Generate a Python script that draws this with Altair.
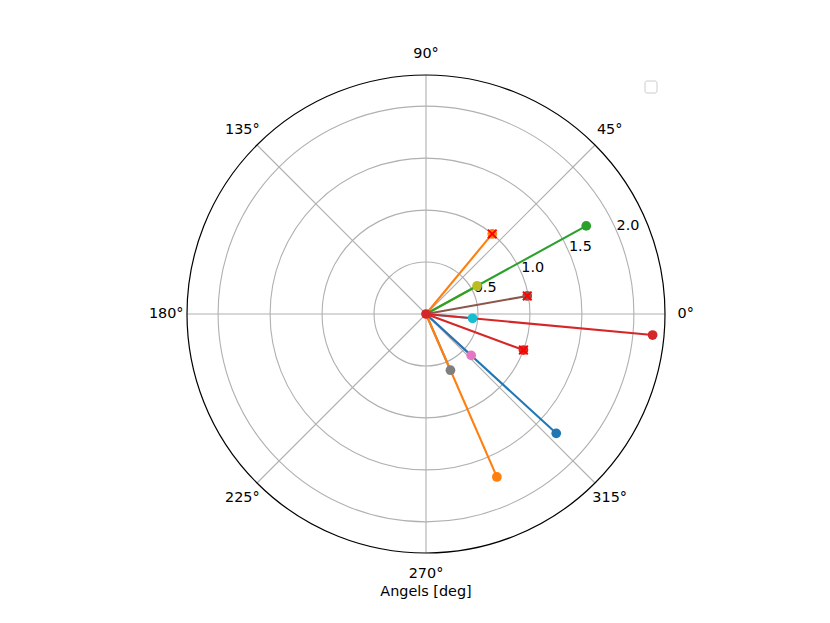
import altair as alt
import pandas as pd

# ---- data ----
vec_theta = [317.5, 293.5, 28.8, 354.7, 317.5, 293.5, 28.8, 354.7, 10.1, 50.4, 339.7]
vec_r = [1.70, 1.71, 1.76, 2.19, 0.59, 0.59, 0.56, 0.45, 0.99, 1.00, 1.00]
vec_color = ["#1f77b4", "#ff7f0e", "#2ca02c", "#d62728", "#e377c2", "#7f7f7f",
             "#bcbd22", "#17becf", "#8c564b", "#ff7f0e", "#d62728"]
vec_cross = [False, False, False, False, False, False, False, False, True, True, True]
vec_layer = [1, 1, 1, 1, 0, 0, 0, 0, 1, 1, 1]  # 0 = drawn beneath the long vectors

grid_r = [0.5, 1.0, 1.5, 2.0]
grid_labels = ["0.5", "1.0", "1.5", "2.0"]
r_max = 2.3
spoke_angles = [0, 45, 90, 135, 180, 225, 270, 315]
spoke_labels = ["0°", "45°", "90°", "135°", "180°", "225°", "270°", "315°"]
x_title = "Angels [deg]"

FONT = "DejaVu Sans"
FS = 14.4
W = 478
PX = W / 2

line_rows = []
for i, (t, r, c, lay) in enumerate(zip(vec_theta, vec_r, vec_color, vec_layer)):
    line_rows.append({"id": i, "theta": t, "r": 0.0, "color": c, "layer": lay})
    line_rows.append({"id": i, "theta": t, "r": r, "color": c, "layer": lay})
lines_df = pd.DataFrame(line_rows)
pts_df = pd.DataFrame({"theta": vec_theta, "r": vec_r, "color": vec_color, "cross": vec_cross})
cross_df = pts_df[pts_df["cross"]]
center_df = pd.DataFrame({"theta": [0.0], "r": [0.0], "color": ["#d62728"]})
grid_df = pd.DataFrame({"r": grid_r, "label": grid_labels})
outer_df = pd.DataFrame({"r": [r_max]})
spoke_df = pd.DataFrame({"theta": spoke_angles, "label": spoke_labels})
title_df = pd.DataFrame({"label": [x_title]})

xs = alt.Scale(domain=[-r_max, r_max], nice=False, zero=False)
ys = alt.Scale(domain=[-r_max, r_max], nice=False, zero=False)
X = alt.X("x:Q", scale=xs, axis=None)
Y = alt.Y("y:Q", scale=ys, axis=None)
rscale = alt.Scale(type="linear", domain=[0, r_max], range=[0, PX], zero=True)

calc = dict(x="datum.r*cos(datum.theta*PI/180)", y="datum.r*sin(datum.theta*PI/180)")

grid = alt.Chart(grid_df).mark_arc(theta=0, theta2=6.2832, fillOpacity=0, stroke="#b0b0b0",
                                   strokeWidth=1.1).encode(
    radius=alt.Radius("r:Q", scale=rscale, stack=None))
spokes = alt.Chart(spoke_df).transform_calculate(
    x="0", y="0",
    x2=f"{r_max}*cos(datum.theta*PI/180)", y2=f"{r_max}*sin(datum.theta*PI/180)"
).mark_rule(color="#b0b0b0", strokeWidth=1.1).encode(x=X, y=Y, x2="x2:Q", y2="y2:Q")
outer = alt.Chart(outer_df).mark_arc(theta=0, theta2=6.2832, fillOpacity=0, stroke="black",
                                     strokeWidth=1.2).encode(
    radius=alt.Radius("r:Q", scale=rscale, stack=None))

rlabels = alt.Chart(grid_df).transform_calculate(
    x="(datum.r+0.12)*cos(23.5*PI/180)", y="(datum.r+0.12)*sin(23.5*PI/180)"
).mark_text(font=FONT, fontSize=FS, color="black").encode(x=X, y=Y, text="label:N")

alabels = alt.Chart(spoke_df).transform_calculate(
    x="2.5*cos(datum.theta*PI/180)", y="2.5*sin(datum.theta*PI/180)"
).mark_text(font=FONT, fontSize=FS, color="black").encode(x=X, y=Y, text="label:N")


def line_layer(lay):
    return alt.Chart(lines_df).transform_filter(f"datum.layer == {lay}").transform_calculate(
        **calc).mark_line(strokeWidth=2.1).encode(
        x=X, y=Y, detail="id:N", color=alt.Color("color:N", scale=None))


lines_under = line_layer(0)
lines_over = line_layer(1)
dots = alt.Chart(pts_df).transform_calculate(**calc).mark_circle(size=95, opacity=1).encode(
    x=X, y=Y, color=alt.Color("color:N", scale=None))
crosses = alt.Chart(cross_df).transform_calculate(**calc).mark_point(
    shape="M-1,-1L1,1M-1,1L1,-1", size=75, strokeWidth=2, filled=False, color="#ff0000", opacity=1
).encode(x=X, y=Y)
center = alt.Chart(center_df).transform_calculate(**calc).mark_circle(size=95, opacity=1).encode(
    x=X, y=Y, color=alt.Color("color:N", scale=None))

title = alt.Chart(title_df).transform_calculate(x="0", y="-2.68").mark_text(
    font=FONT, fontSize=FS, color="black").encode(x=X, y=Y, text="label:N")

legend_box = alt.Chart(title_df).mark_rect(fill="white", stroke="#cccccc", strokeWidth=1,
                                           cornerRadius=2).encode(
    x=alt.value(458), x2=alt.value(470), y=alt.value(6), y2=alt.value(18))

chart = alt.layer(grid, spokes, outer, rlabels, alabels, lines_under, lines_over, dots, crosses,
                  center, title, legend_box).properties(
    width=W, height=W,
    autosize=alt.AutoSizeParams(type="none"),
    padding={"left": 179, "top": 67, "right": 157, "bottom": 60},
    background="white",
).configure_view(stroke=None)

chart.save("out.html", embed_options={"renderer": "svg", "actions": False})
